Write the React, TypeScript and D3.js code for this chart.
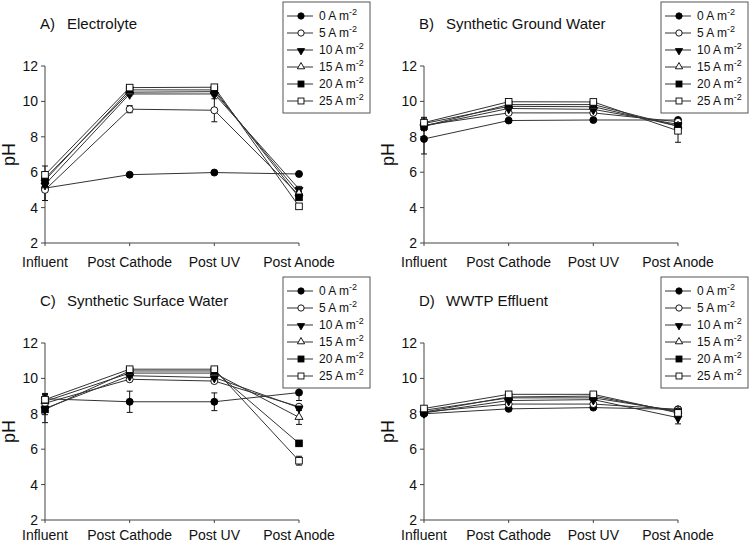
import React from "react";
import * as d3 from "d3";

const categories = ["Influent", "Post Cathode", "Post UV", "Post Anode"];
const seriesLabels = ["0", "5", "10", "15", "20", "25"];
const markerTypes = ["circleFilled", "circleOpen", "triDownFilled", "triUpOpen", "squareFilled", "squareOpen"];
const yTicks = [2, 4, 6, 8, 10, 12];
const panelLetters = ["A)", "B)", "C)", "D)"];
const panelNames = ["Electrolyte", "Synthetic Ground Water", "Synthetic Surface Water", "WWTP Effluent"];

// values[series][category]
const electrolyteValues = [
  [5.1, 5.86, 5.98, 5.9],
  [5.0, 9.56, 9.5, 4.7],
  [5.3, 10.42, 10.42, 5.05],
  [5.65, 10.52, 10.55, 4.8],
  [5.55, 10.65, 10.65, 4.58],
  [5.85, 10.78, 10.8, 4.07],
];
const electrolyteErrors = [
  [0.7, 0.05, 0.05, 0.05],
  [0.6, 0.2, 0.65, 0.1],
  [0.4, 0.1, 0.1, 0.15],
  [0.3, 0.1, 0.1, 0.1],
  [0.2, 0.05, 0.05, 0.1],
  [0.5, 0.05, 0.05, 0.1],
];
const groundWaterValues = [
  [7.88, 8.92, 8.95, 8.95],
  [8.65, 9.35, 9.35, 8.85],
  [8.6, 9.6, 9.55, 8.7],
  [8.75, 9.72, 9.7, 8.6],
  [8.6, 9.82, 9.82, 8.6],
  [8.8, 9.98, 9.97, 8.34],
];
const groundWaterErrors = [
  [0.85, 0.05, 0.05, 0.05],
  [0.3, 0.05, 0.05, 0.1],
  [0.2, 0.05, 0.05, 0.1],
  [0.3, 0.05, 0.05, 0.1],
  [0.2, 0.05, 0.05, 0.1],
  [0.3, 0.05, 0.05, 0.65],
];
const surfaceWaterValues = [
  [8.85, 8.68, 8.68, 9.2],
  [8.6, 9.95, 9.85, 8.4],
  [8.3, 10.15, 10.05, 8.35],
  [8.7, 10.3, 10.3, 7.8],
  [8.25, 10.42, 10.42, 6.33],
  [8.8, 10.52, 10.52, 5.35],
];
const surfaceWaterErrors = [
  [0.3, 0.6, 0.5, 0.45],
  [0.5, 0.05, 0.05, 0.1],
  [0.8, 0.05, 0.05, 0.15],
  [0.3, 0.05, 0.05, 0.4],
  [0.3, 0.05, 0.05, 0.15],
  [0.3, 0.05, 0.05, 0.25],
];
const effluentValues = [
  [8.0, 8.28, 8.35, 8.25],
  [8.1, 8.55, 8.55, 8.25],
  [8.05, 8.75, 8.8, 7.78],
  [8.2, 8.9, 8.9, 8.15],
  [8.1, 8.95, 9.0, 8.1],
  [8.3, 9.1, 9.1, 8.05],
];
const effluentErrors = [
  [0.1, 0.05, 0.05, 0.05],
  [0.1, 0.05, 0.05, 0.05],
  [0.1, 0.05, 0.05, 0.35],
  [0.1, 0.05, 0.05, 0.05],
  [0.1, 0.05, 0.05, 0.05],
  [0.1, 0.05, 0.05, 0.05],
];

const allValues = [electrolyteValues, groundWaterValues, surfaceWaterValues, effluentValues];
const allErrors = [electrolyteErrors, groundWaterErrors, surfaceWaterErrors, effluentErrors];

const FONT = "'Liberation Sans', Arial, sans-serif";
const AXIS = "#444";
const LINE = "#333";

function Marker({ type, x, y, k = 1 }: { type: string; x: number; y: number; k?: number }) {
  const r = 3.5 * k;
  const s = 3.3 * k;
  const filled = type.endsWith("Filled");
  const fill = filled ? "#000" : "#fff";
  const stroke = "#000";
  if (type.startsWith("circle")) return <circle cx={x} cy={y} r={r} fill={fill} stroke={stroke} strokeWidth={0.9} />;
  if (type.startsWith("square")) return <rect x={x - s} y={y - s} width={2 * s} height={2 * s} fill={fill} stroke={stroke} strokeWidth={0.9} />;
  const sym = d3.symbol(d3.symbolTriangle, 28 * k * k)();
  const rot = type.startsWith("triDown") ? 180 : 0;
  return <path d={sym || ""} transform={`translate(${x},${y + (rot ? 0.7 : -0.3)}) rotate(${rot})`} fill={fill} stroke={stroke} strokeWidth={0.9} />;
}

function Panel({ idx, x0, x1, yTop, yBot, legX, legY, labOff }: any) {
  const values = allValues[idx];
  const errors = allErrors[idx];
  const x = d3.scalePoint<string>().domain(categories).range([x0, x1]);
  const y = d3.scaleLinear().domain([2, 12]).range([yBot, yTop]);
  const line = d3.line<number>().x((_, i) => x(categories[i])!).y((v) => y(v));
  return (
    <g>
      <text x={x0 - 5} y={yTop - 37} fontSize={15} fontFamily={FONT} fill="#111">{panelLetters[idx]}</text>
      <text x={x0 + 22} y={yTop - 37} fontSize={15} fontFamily={FONT} fill="#111">{panelNames[idx]}</text>
      {/* axes */}
      <line x1={x0} x2={x0} y1={yTop} y2={yBot} stroke={AXIS} strokeWidth={1} />
      <line x1={x0} x2={x1} y1={yBot} y2={yBot} stroke={AXIS} strokeWidth={1} />
      {yTicks.map((t) => (
        <g key={t}>
          <line x1={x0 - 4} x2={x0} y1={y(t)} y2={y(t)} stroke={AXIS} />
          <text x={x0 - 7} y={y(t) + 5} textAnchor="end" fontSize={14} fontFamily={FONT} fill="#111">{t}</text>
        </g>
      ))}
      {categories.map((c) => (
        <g key={c}>
          <line x1={x(c)} x2={x(c)} y1={yBot} y2={yBot + 3} stroke={AXIS} />
          <text x={x(c)} y={yBot + labOff} textAnchor="middle" fontSize={14} fontFamily={FONT} fill="#111">{c}</text>
        </g>
      ))}
      <text transform={`translate(${x0 - 30},${(yTop + yBot) / 2}) rotate(-90)`} textAnchor="middle" fontSize={18} fontFamily={FONT} fill="#111">pH</text>
      {/* lines */}
      {values.map((vals: number[], s: number) => (
        <path key={"l" + s} d={line(vals) || ""} fill="none" stroke={LINE} strokeWidth={1} />
      ))}
      {/* error bars */}
      {values.map((vals: number[], s: number) =>
        vals.map((v, i) => {
          const e = errors[s][i];
          const cx = x(categories[i])!;
          return (
            <g key={`e${s}-${i}`} stroke="#111" strokeWidth={1}>
              <line x1={cx} x2={cx} y1={y(v - e)} y2={y(v + e)} />
              <line x1={cx - 3} x2={cx + 3} y1={y(v - e)} y2={y(v - e)} />
              <line x1={cx - 3} x2={cx + 3} y1={y(v + e)} y2={y(v + e)} />
            </g>
          );
        })
      )}
      {/* markers */}
      {values.map((vals: number[], s: number) =>
        vals.map((v, i) => <Marker key={`m${s}-${i}`} type={markerTypes[s]} x={x(categories[i])!} y={y(v)} />)
      )}
      {/* legend */}
      <rect x={legX} y={legY} width={87} height={111} fill="#fff" stroke="#555" strokeWidth={1} />
      {seriesLabels.map((lab, s) => {
        const ly = legY + 14 + s * 17;
        return (
          <g key={"lg" + s}>
            <line x1={legX + 4} x2={legX + 30} y1={ly} y2={ly} stroke={LINE} strokeWidth={1} />
            <Marker type={markerTypes[s]} x={legX + 18} y={ly} k={0.9} />
            <text x={legX + 36} y={ly + 4} fontSize={12} fontFamily={FONT} fill="#111">
              {lab} A m<tspan fontSize={9} dy={-5}>-2</tspan>
            </text>
          </g>
        );
      })}
    </g>
  );
}

export default function App() {
  return (
    <svg width={749} height={543} style={{ position: "absolute", left: 0, top: 0, background: "#fff" }}>
      <rect width={749} height={543} fill="#fff" />
      <Panel idx={0} x0={45} x1={299} yTop={66} yBot={243} legX={283} legY={2} labOff={24} />
      <Panel idx={1} x0={424} x1={678} yTop={66} yBot={243} legX={661} legY={2} labOff={24} />
      <Panel idx={2} x0={45} x1={299} yTop={343} yBot={520} legX={283} legY={277} labOff={20} />
      <Panel idx={3} x0={424} x1={678} yTop={343} yBot={520} legX={661} legY={277} labOff={20} />
    </svg>
  );
}
